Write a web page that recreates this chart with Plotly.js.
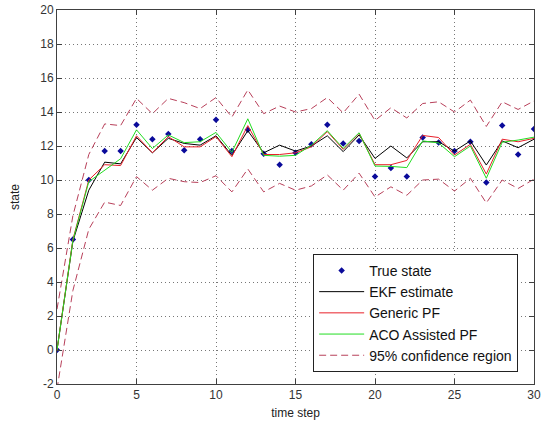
<!DOCTYPE html>
<html>
<head>
<meta charset="utf-8">
<script src="https://cdn.plot.ly/plotly-3.0.1.min.js"></script>
<style>html,body{margin:0;padding:0;background:#fff}#chart{width:545px;height:427px}</style>
</head>
<body>
<div id="chart"></div>
<script>
var timeStep = [0,1,2,3,4,5,6,7,8,9,10,11,12,13,14,15,16,17,18,19,20,21,22,23,24,25,26,27,28,29,30];
var trueState = [0,6.5,10.0,11.7,11.7,13.25,12.4,12.7,11.75,12.4,13.55,11.7,12.95,11.55,10.9,11.6,12.1,13.25,12.15,12.3,10.2,10.7,10.2,12.5,12.2,11.7,12.25,9.85,13.2,11.5,13.0];
var ekfEstimate = [0,6.4,9.4,11.05,10.95,12.5,11.6,12.45,12.15,12.05,12.6,11.45,12.9,11.6,12.05,11.7,12.0,12.6,11.67,12.65,11.27,12.0,11.3,12.25,12.25,11.7,12.3,10.88,12.3,11.9,12.4];
var genericPF = [0,6.5,10.0,10.9,10.85,12.6,11.6,12.55,11.95,11.95,12.55,11.37,13.2,11.5,11.5,11.6,11.95,12.85,11.8,12.75,10.9,10.9,11.15,12.62,12.5,11.47,12.1,10.35,12.4,12.25,12.45];
var acoPF = [0,6.45,9.9,10.6,11.25,12.95,11.85,12.65,12.2,12.25,12.8,11.63,13.6,11.45,11.4,11.45,12.05,12.9,11.86,12.78,10.82,10.8,10.73,12.3,12.18,11.37,12.0,10.1,12.22,12.35,12.52];
var upperBound = [2.4,7.9,11.5,13.3,13.2,14.8,13.9,14.8,14.55,14.2,14.85,13.7,15.3,13.9,14.35,14.0,14.2,14.85,13.95,15.05,13.5,14.25,13.65,14.5,14.6,14.0,14.7,13.15,14.6,14.15,14.65];
var lowerBound = [-2.3,3.5,7.1,8.7,8.5,10.2,9.4,10.1,9.9,9.85,10.25,9.3,10.65,9.3,9.8,9.4,9.65,10.3,9.4,10.4,9.0,9.6,9.1,10.0,10.05,9.35,10.1,8.65,10.0,9.5,10.05];
var xTicks = [0,5,10,15,20,25,30];
var yTicks = [-2,0,2,4,6,8,10,12,14,16,18,20];

var dashColor = '#b8405a';
var fontFam = 'Liberation Sans, Arial, sans-serif';
var traces = [
  {x: timeStep, y: trueState, mode: 'markers', name: 'True state',
   marker: {symbol: 'diamond', size: 5, color: '#0a0a9a'}},
  {x: timeStep, y: ekfEstimate, mode: 'lines', name: 'EKF estimate',
   line: {color: '#000000', width: 1}},
  {x: timeStep, y: genericPF, mode: 'lines', name: 'Generic PF',
   line: {color: '#e8202a', width: 1}},
  {x: timeStep, y: acoPF, mode: 'lines', name: 'ACO Assisted PF',
   line: {color: '#22dd22', width: 1}},
  {x: timeStep, y: upperBound, mode: 'lines', name: '95% confidence region',
   line: {color: dashColor, width: 1, dash: '7px,4px'}},
  {x: timeStep, y: lowerBound, mode: 'lines', name: 'lower', showlegend: false,
   line: {color: dashColor, width: 1, dash: '7px,4px'}}
];

var axisCommon = {
  showline: true, mirror: 'ticks', linecolor: '#404040', linewidth: 1,
  ticks: 'inside', ticklen: 5, tickcolor: '#404040',
  showgrid: true, gridcolor: '#777777', griddash: '1px,3px', gridwidth: 1,
  zeroline: false,
  tickfont: {family: fontFam, size: 12, color: '#333333'}
};

var layout = {
  width: 545, height: 427,
  margin: {l: 57, r: 11, t: 10, b: 43},
  paper_bgcolor: '#ffffff', plot_bgcolor: '#ffffff',
  showlegend: true,
  xaxis: Object.assign({}, axisCommon, {
    range: [0, 30], tickvals: xTicks, ticktext: xTicks.map(String),
    title: {text: 'time step', standoff: 7, font: {family: fontFam, size: 12, color: '#222'}}
  }),
  yaxis: Object.assign({}, axisCommon, {
    range: [-2, 20], tickvals: yTicks, ticktext: yTicks.map(String),
    title: {text: 'state', standoff: 18, font: {family: fontFam, size: 12, color: '#222'}}
  }),
  legend: {
    x: 0.537, y: 0.348, xanchor: 'left', yanchor: 'top',
    bgcolor: '#ffffff', bordercolor: '#222222', borderwidth: 1,
    font: {family: fontFam, size: 14, color: '#111'},
    itemwidth: 45, tracegroupgap: 0
  }
};

Plotly.newPlot('chart', traces, layout, {displayModeBar: false, staticPlot: true});
</script>
</body>
</html>
